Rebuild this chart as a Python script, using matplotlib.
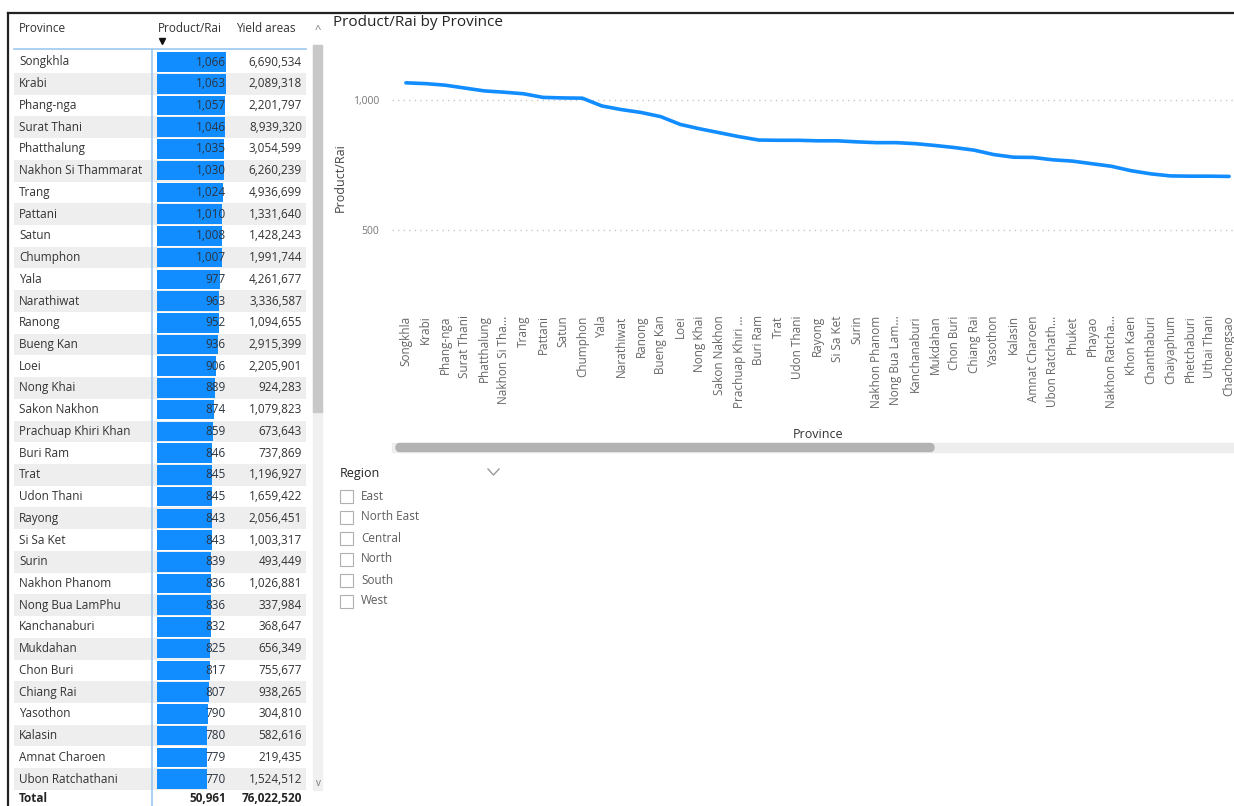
import numpy as np
import matplotlib
matplotlib.use("Agg")
import matplotlib.pyplot as plt
from matplotlib.patches import FancyBboxPatch, Rectangle

plt.rcParams["font.family"] = ["Open Sans", "DejaVu Sans"]

# ---- data ----
provinces = ["Songkhla", "Krabi", "Phang-nga", "Surat Thani", "Phatthalung", "Nakhon Si Thammarat",
             "Trang", "Pattani", "Satun", "Chumphon", "Yala", "Narathiwat", "Ranong", "Bueng Kan",
             "Loei", "Nong Khai", "Sakon Nakhon", "Prachuap Khiri Khan", "Buri Ram", "Trat",
             "Udon Thani", "Rayong", "Si Sa Ket", "Surin", "Nakhon Phanom", "Nong Bua LamPhu",
             "Kanchanaburi", "Mukdahan", "Chon Buri", "Chiang Rai", "Yasothon", "Kalasin",
             "Amnat Charoen", "Ubon Ratchathani"]
product_rai = [1066, 1063, 1057, 1046, 1035, 1030, 1024, 1010, 1008, 1007, 977, 963, 952, 936,
               906, 889, 874, 859, 846, 845, 845, 843, 843, 839, 836, 836, 832, 825, 817, 807,
               790, 780, 779, 770]
yield_areas = [6690534, 2089318, 2201797, 8939320, 3054599, 6260239, 4936699, 1331640, 1428243,
               1991744, 4261677, 3336587, 1094655, 2915399, 2205901, 924283, 1079823, 673643,
               737869, 1196927, 1659422, 2056451, 1003317, 493449, 1026881, 337984, 368647,
               656349, 755677, 938265, 304810, 582616, 219435, 1524512]
total_product = 50961
total_yield = 76022520

# provinces further down the list, visible only in the line chart
extra_provinces = ["Phuket", "Phayao", "Nakhon Ratchasima", "Khon Kaen", "Chanthaburi",
                   "Chaiyaphum", "Phetchaburi", "Uthai Thani", "Chachoengsao"]
extra_product = [765, 755, 745, 728, 716, 708, 707, 707, 706]

chart_labels = ["Songkhla", "Krabi", "Phang-nga", "Surat Thani", "Phatthalung", "Nakhon Si Tha...",
                "Trang", "Pattani", "Satun", "Chumphon", "Yala", "Narathiwat", "Ranong", "Bueng Kan",
                "Loei", "Nong Khai", "Sakon Nakhon", "Prachuap Khiri ...", "Buri Ram", "Trat",
                "Udon Thani", "Rayong", "Si Sa Ket", "Surin", "Nakhon Phanom", "Nong Bua Lam...",
                "Kanchanaburi", "Mukdahan", "Chon Buri", "Chiang Rai", "Yasothon", "Kalasin",
                "Amnat Charoen", "Ubon Ratchath...", "Phuket", "Phayao", "Nakhon Ratcha...",
                "Khon Kaen", "Chanthaburi", "Chaiyaphum", "Phetchaburi", "Uthai Thani", "Chachoengsao"]
chart_values = product_rai + extra_product

regions = ["East", "North East", "Central", "North", "South", "West"]

BLUE = "#118DFF"
W, H = 1234, 806
fig = plt.figure(figsize=(W / 100, H / 100), dpi=100)


def fax(x0, y0, x1, y1):
    return fig.add_axes([x0 / W, 1 - y1 / H, (x1 - x0) / W, (y1 - y0) / H])


# overlay in pixel units for frames / chrome
ov = fax(0, 0, W, H); ov.set_xlim(0, W); ov.set_ylim(H, 0); ov.axis("off")
ov.plot([8, W], [13, 13], color="#222222", lw=1.6)
ov.plot([8, 8], [13, H], color="#222222", lw=1.6)

# ---- table ----
ROW0, ROWH = 62, 21.73
def r(py): return (py - ROW0) / ROWH
rows = np.arange(len(provinces))
odd = rows[rows % 2 == 1]

bg = fax(0, 14, 330, H); bg.set_xlim(0, 330); bg.set_ylim(r(H), r(14)); bg.axis("off")
bg.barh(odd, 292, left=14, height=1.0, color="#EEEEEE", zorder=0)

bx = fax(157, 14, 226, H); bx.set_ylim(r(H), r(14)); bx.set_xlim(0, max(product_rai)); bx.axis("off")
bx.barh(rows, product_rai, height=0.9, color=BLUE)

tb = fax(0, 14, 330, H); tb.set_xlim(0, 330); tb.set_ylim(r(H), r(14)); tb.axis("off")
tb.plot([152, 152], [r(50), r(H)], color="#9CC8F0", lw=1.2)
tb.plot([14, 306], [r(49), r(49)], color="#9CC8F0", lw=1.2)
tb.text(19, r(29), "Province", fontsize=8.5, color="#333333", va="center")
tb.text(158, r(29), "Product/Rai", fontsize=8.5, color="#333333", va="center")
tb.text(236, r(29), "Yield areas", fontsize=8.5, color="#333333", va="center")
tb.plot([162], [r(41)], marker="v", color="#111111", ms=5)
for i, (p, v, y) in enumerate(zip(provinces, product_rai, yield_areas)):
    tb.text(19, i, p, fontsize=8.5, color="#333333", va="center")
    tb.text(226, i, f"{v:,}", fontsize=8.5, color="#2B3440", va="center", ha="right")
    tb.text(302, i, f"{y:,}", fontsize=8.5, color="#333333", va="center", ha="right")
tb.text(19, r(798), "Total", fontsize=8.5, fontweight="bold", color="#252423", va="center")
tb.text(226, r(798), f"{total_product:,}", fontsize=8.5, fontweight="bold", color="#252423", va="center", ha="right")
tb.text(302, r(798), f"{total_yield:,}", fontsize=8.5, fontweight="bold", color="#252423", va="center", ha="right")

# table vertical scrollbar
ov.add_patch(Rectangle((313, 45), 9, 745, color="#F0F0F0"))
ov.add_patch(Rectangle((313, 45), 9, 367, color="#C8C8C8"))
ov.text(318, 31, "^", fontsize=8, color="#777777", ha="center", va="center")
ov.text(318, 784, "v", fontsize=7, color="#777777", ha="center", va="center")

# ---- line chart ----
ov.text(333, 22, "Product/Rai by Province", fontsize=11, color="#252423", va="center")
lx = fax(392, 45, W, 300)
xs = np.arange(len(chart_values))
lx.plot(xs, chart_values, color=BLUE, lw=2.6, solid_capstyle="round")
lx.set_xlim(-0.71, 42.25)
lx.set_ylim(230.8, 1211.5)
lx.set_yticks([500, 1000])
lx.set_yticklabels([f"{t:,}" for t in [500, 1000]], fontsize=7.5, color="#777777")
lx.yaxis.grid(True, linestyle=(0, (1, 3)), color="#C8C8C8", lw=1)
lx.set_xticks(xs)
lx.set_xticklabels(chart_labels, rotation=90, fontsize=8.5, color="#666666", va="top")
lx.tick_params(length=0)
lx.tick_params(axis="x", pad=11)
lx.tick_params(axis="y", pad=9)
for s in lx.spines.values():
    s.set_visible(False)
lx.set_ylabel("Product/Rai", fontsize=9, color="#444444")
lx.yaxis.set_label_coords((347 - 392) / 842, (300 - 178) / 255)
lx.set_xlabel("Province", fontsize=9, color="#333333")
lx.xaxis.set_label_coords((818 - 392) / 842, (300 - 428) / 255)

# horizontal scrollbar of the chart
ov.add_patch(Rectangle((392, 443), W - 392, 9, color="#EEEEEE"))
ov.add_patch(FancyBboxPatch((396, 443.5), 538, 8, boxstyle="round,pad=0,rounding_size=4", color="#B3B3B3"))

# ---- region slicer ----
ov.text(340, 474, "Region", fontsize=9, color="#252423", va="center")
ov.plot([488, 493.5, 499], [469, 475, 469], color="#999999", lw=1)
for k, name in enumerate(regions):
    y = 496 + k * 21
    ov.add_patch(Rectangle((340, y - 6.5), 13, 13, fill=False, edgecolor="#B0B0B0", lw=0.8))
    ov.text(361, y, name, fontsize=8.5, color="#605E5C", va="center")

fig.savefig("out.png", dpi=100)
